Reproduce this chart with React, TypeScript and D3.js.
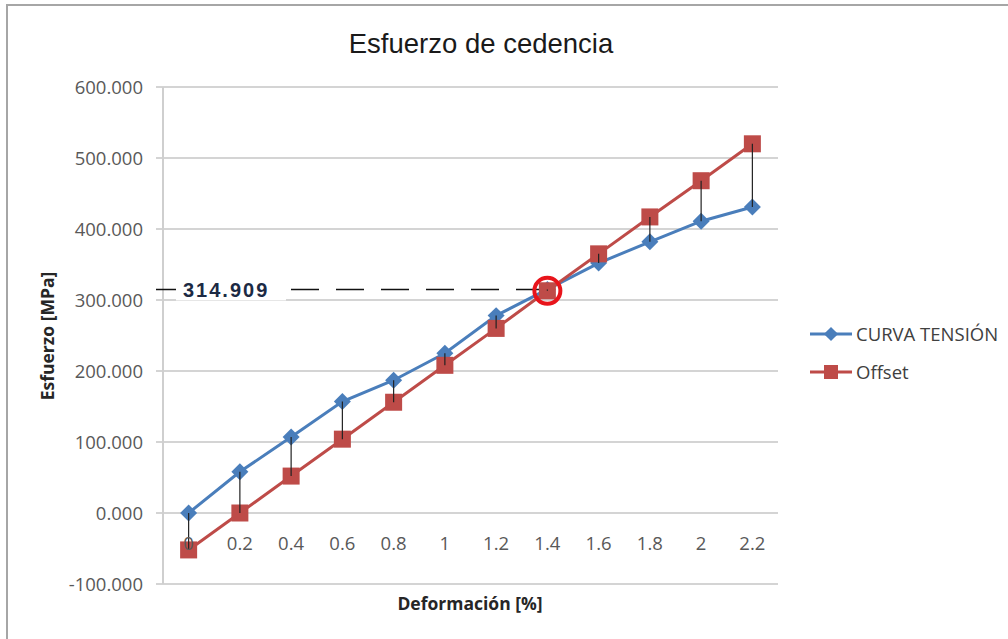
import React from "react";
import * as d3 from "d3";

// Strain categories (%) and stress values (MPa)
const categories = ["0", "0.2", "0.4", "0.6", "0.8", "1", "1.2", "1.4", "1.6", "1.8", "2", "2.2"];
const curvaTension = [0, 58, 107, 157, 187, 225, 278, 314.909, 352, 382, 411, 431];
const offset = [-52, 0, 52, 104, 156, 208, 260, 313, 365, 417, 468, 520];
const yTicks = [-100, 0, 100, 200, 300, 400, 500, 600];
const yieldStress = 314.909;
const yieldIndex = 7;

const W = 1008;
const H = 639;
const BLUE = "#4a7ebb";
const RED = "#be4b48";
const TICK_FONT = "'Open Sans', sans-serif";

export default function App() {
  const x = d3.scaleBand<string>().domain(categories).range([163, 778]);
  const y = d3.scaleLinear().domain([-100, 600]).range([584, 87]);
  const cx = (c: string) => (x(c) ?? 0) + x.bandwidth() / 2;

  const line = d3
    .line<number>()
    .x((_, i) => cx(categories[i]))
    .y((v) => y(v));

  // plain hyphen for negatives
  const fmt = (v: number) => d3.format(".3f")(v).replace("\u2212", "-");
  const yy = y(yieldStress);
  const markX = cx(categories[yieldIndex]);

  return (
    <div style={{ position: "fixed", left: 0, top: 0 }}>
      <svg width={W} height={H} style={{ display: "block", background: "#fff" }}>
        {/* chart frame */}
        <rect x={7} y={5} width={1010} height={650} fill="#fff" stroke="#a6a6a6" strokeWidth={2} />

        <text x={481} y={53} textAnchor="middle" fontFamily="'Liberation Sans', Arial, sans-serif" fontSize={27.5} fill="#1a1a1a">
          Esfuerzo de cedencia
        </text>

        {/* gridlines and y axis */}
        {yTicks.map((t) => (
          <g key={t}>
            <line x1={156} x2={778} y1={y(t)} y2={y(t)} stroke="#d4d4d4" strokeWidth={2} />
            <text x={143} y={y(t)} dy="0.36em" textAnchor="end" fontFamily={TICK_FONT} fontSize={18.5} fill="#595959">
              {fmt(t)}
            </text>
          </g>
        ))}
        <line x1={163} x2={163} y1={y(600)} y2={y(-100)} stroke="#cfcfcf" strokeWidth={2} />

        {/* yield reference line */}
        <line x1={156} x2={markX - 4} y1={yy} y2={yy} stroke="#111" strokeWidth={1.5} strokeDasharray="28 17" />
        <rect x={176} y={yy - 11} width={110} height={22} fill="#fff" />
        <text x={183} y={yy} dy="0.36em" fontFamily="'Liberation Sans', Arial, sans-serif" fontWeight="bold" fontSize={20} letterSpacing={2} fill="#1c2a44">
          {yieldStress.toFixed(3)}
        </text>

        {/* series lines */}
        <path d={line(curvaTension) ?? ""} fill="none" stroke={BLUE} strokeWidth={3} />
        <path d={line(offset) ?? ""} fill="none" stroke={RED} strokeWidth={3} />

        {/* markers */}
        {curvaTension.map((v, i) => (
          <rect
            key={"b" + i}
            x={-6}
            y={-6}
            width={12}
            height={12}
            fill={BLUE}
            transform={`translate(${cx(categories[i])},${y(v)}) rotate(45)`}
          />
        ))}
        {offset.map((v, i) => (
          <rect key={"r" + i} x={cx(categories[i]) - 8.5} y={y(v) - 8.5} width={17} height={17} fill={RED} />
        ))}

        {/* drop lines between series */}
        {categories.map((c, i) => (
          <line key={"d" + i} x1={cx(c)} x2={cx(c)} y1={y(curvaTension[i])} y2={y(offset[i])} stroke="#222" strokeWidth={1.2} />
        ))}

        {/* x labels beside the zero axis */}
        {categories.map((c) => (
          <text key={"x" + c} x={cx(c)} y={y(0) + 37} textAnchor="middle" fontFamily={TICK_FONT} fontSize={18.5} fill="#595959">
            {c}
          </text>
        ))}

        <circle cx={markX} cy={y(offset[yieldIndex])} r={13} fill="none" stroke="#e8141b" strokeWidth={4} />

        {/* axis titles */}
        <text
          transform={`translate(54,336) rotate(-90)`}
          textAnchor="middle"
          fontFamily={TICK_FONT}
          fontWeight="bold"
          fontSize={17.5}
          fill="#262626"
        >
          Esfuerzo [MPa]
        </text>
        <text x={470} y={610} textAnchor="middle" fontFamily={TICK_FONT} fontWeight="bold" fontSize={17.5} fill="#262626">
          Deformación [%]
        </text>

        {/* legend */}
        <g>
          <line x1={810} x2={852} y1={334} y2={334} stroke={BLUE} strokeWidth={3} />
          <rect x={-5} y={-5} width={10} height={10} fill={BLUE} transform="translate(831,334) rotate(45)" />
          <text x={856} y={334} dy="0.36em" fontFamily={TICK_FONT} fontSize={18.5} fill="#404040">
            CURVA TENSIÓN
          </text>
          <line x1={810} x2={852} y1={372} y2={372} stroke={RED} strokeWidth={3} />
          <rect x={824} y={365} width={14} height={14} fill={RED} />
          <text x={856} y={372} dy="0.36em" fontFamily={TICK_FONT} fontSize={18.5} fill="#404040">
            Offset
          </text>
        </g>
      </svg>
    </div>
  );
}
